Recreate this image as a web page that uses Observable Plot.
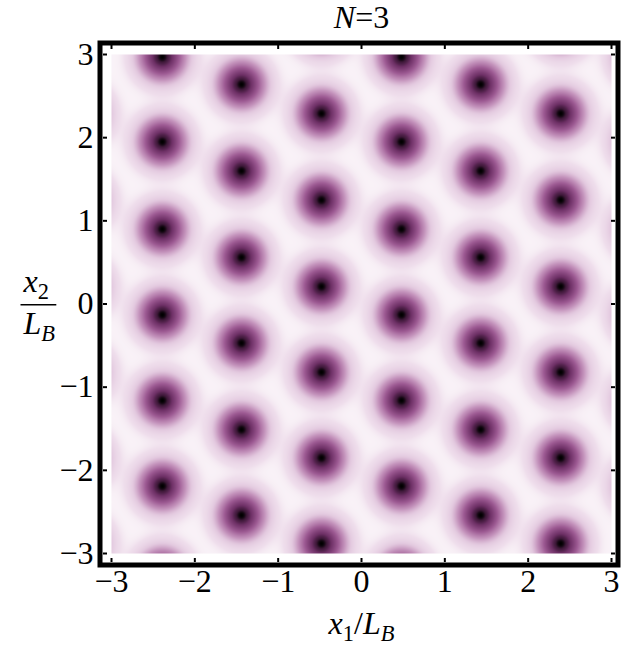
<!DOCTYPE html>
<html>
<head>
<meta charset="utf-8">
<script src="https://cdn.jsdelivr.net/npm/d3@7"></script>
<script src="https://cdn.jsdelivr.net/npm/@observablehq/plot@0.6"></script>
<style>
  html, body { margin: 0; padding: 0; background: #fff; }
  #chart svg { display: block; }
  #chart svg text { font-family: "Liberation Serif", "DejaVu Serif", serif; }
</style>
</head>
<body>
<div id="chart"></div>
<script>
// Vortex centres (x1/L_B, x2/L_B), including the
// partly visible / just-outside ones that shade the edges.
const vortexX = [
  -3.35, -3.35, -3.35, -3.35, -3.35, -3.35,
  -2.39, -2.39, -2.39, -2.39, -2.39, -2.39, -2.39,
  -1.44, -1.44, -1.44, -1.44, -1.44, -1.44, -1.44, -1.44,
  -0.48, -0.48, -0.48, -0.48, -0.48, -0.48, -0.48,
   0.48,  0.48,  0.48,  0.48,  0.48,  0.48,  0.48,
   1.43,  1.43,  1.43,  1.43,  1.43,  1.43,  1.43,  1.43,
   2.39,  2.39,  2.39,  2.39,  2.39,  2.39,  2.39,
   3.34,  3.34,  3.34,  3.34,  3.34,  3.34
];
const vortexY = [
   2.29,  1.25,  0.21, -0.82, -1.85, -2.88,
   2.97,  1.95,  0.90, -0.13, -1.16, -2.19, -3.23,
   3.67,  2.64,  1.60,  0.56, -0.47, -1.51, -2.54, -3.57,
   3.32,  2.29,  1.25,  0.21, -0.82, -1.85, -2.88,
   2.97,  1.95,  0.90, -0.13, -1.16, -2.19, -3.23,
   3.67,  2.64,  1.60,  0.56, -0.47, -1.51, -2.54, -3.57,
   3.32,  2.29,  1.25,  0.21, -0.82, -1.85, -2.88,
   2.97,  1.95,  0.90, -0.13, -1.16, -2.19
];
const xTicks = [-3, -2, -1, 0, 1, 2, 3];
const yTicks = [-3, -2, -1, 0, 1, 2, 3];
const titleText = "N=3";
const xLabel = "x1/LB";
const yLabelTop = "x2";
const yLabelBottom = "LB";
// colour ramp of the density (stop value -> colour)
const rampStops  = [0, 0.05, 0.18, 0.45, 0.68, 0.84, 0.95, 0.985, 1];
const rampColors = ["#000000", "#3d1838", "#6e3066", "#9d5a93", "#c493bc", "#e3c9df", "#efdeec", "#f8f0f6", "#faf4f9"];

const vortices = vortexX.map((x, i) => ({x, y: vortexY[i]}));
const S2 = 0.068;
function density(x, y) {
  let p = 1;
  for (const v of vortices) {
    const dx = x - v.x, dy = y - v.y;
    const r2 = dx * dx + dy * dy;
    if (r2 < 2.5) p *= 1 - Math.exp(-r2 / S2);
  }
  return p;
}
const ramp = d3.scaleLinear().domain(rampStops).range(rampColors).interpolate(d3.interpolateRgb).clamp(true);

const FONT = "Liberation Serif";
const FS = 32;
const frameH = 648 - 54 - 95, frameW = 625 - 111 - 14;
const fmt = d => (d < 0 ? "\u2212" : "") + Math.abs(d);

const svg = Plot.plot({
  width: 625,
  height: 648,
  marginLeft: 111,
  marginRight: 14,
  marginTop: 54,
  marginBottom: 95,
  style: {fontFamily: FONT, background: "white", color: "black"},
  x: {domain: [-3, 3]},
  y: {domain: [-3, 3]},
  color: {type: "linear", domain: [0, 1], interpolate: t => ramp(t)},
  marks: [
    Plot.raster({fill: density, x1: -3, x2: 3, y1: -3, y2: 3, pixelSize: 1}),
    Plot.frame({stroke: "black", strokeWidth: 5, insetLeft: -11.5, insetTop: -11.5, insetBottom: -11.5, insetRight: -6.5}),
    // inward frame ticks
    Plot.tickX(xTicks, {x: d => d, insetTop: frameH - 4, dy: 9, strokeWidth: 2}),
    Plot.tickX(xTicks, {x: d => d, insetBottom: frameH - 4, dy: -9, strokeWidth: 2}),
    Plot.tickY(yTicks, {y: d => d, insetRight: frameW - 4, dx: -8, strokeWidth: 2}),
    Plot.tickY(yTicks, {y: d => d, insetLeft: frameW - 4, dx: 4, strokeWidth: 2}),
    Plot.axisX(xTicks, {anchor: "bottom", tickSize: 0, tickPadding: 16, fontSize: FS, label: null, tickFormat: fmt}),
    Plot.axisY(yTicks, {anchor: "left", tickSize: 0, tickPadding: 18, fontSize: FS, label: null, tickFormat: fmt}),
    Plot.text([titleText], {frameAnchor: "top", dy: -37, fontSize: FS, lineAnchor: "middle"}),
    Plot.text([xLabel], {frameAnchor: "bottom", dy: 70, fontSize: FS, lineAnchor: "middle"}),
    Plot.text([yLabelTop], {frameAnchor: "left", dx: -88, dy: -22, fontSize: FS, lineAnchor: "middle"}),
    Plot.text([yLabelBottom], {frameAnchor: "left", dx: -88, dy: 20, fontSize: FS, lineAnchor: "middle"})
  ]
});
document.getElementById("chart").appendChild(svg);

// rich text (italics and subscripts)
const NS = "http://www.w3.org/2000/svg";
function rich(content, parts) {
  for (const t of svg.querySelectorAll("text")) {
    if (t.textContent === content) {
      while (t.firstChild) t.removeChild(t.firstChild);
      let shift = 0;
      for (const p of parts) {
        const s = document.createElementNS(NS, "tspan");
        s.textContent = p.t;
        if (p.i) s.setAttribute("font-style", "italic");
        const target = p.sub ? 7 : 0;
        if (p.sub) s.setAttribute("font-size", FS * 0.7);
        if (target !== shift) { s.setAttribute("dy", target - shift); shift = target; }
        t.appendChild(s);
      }
      return t;
    }
  }
}
rich(titleText, [{t: "N", i: true}, {t: "=3"}]);
rich(xLabel, [{t: "x", i: true}, {t: "1", sub: true}, {t: "/"}, {t: "L", i: true}, {t: "B", i: true, sub: true}]);
const tTop = rich(yLabelTop, [{t: "x", i: true}, {t: "2", sub: true}]);
const tBot = rich(yLabelBottom, [{t: "L", i: true}, {t: "B", i: true, sub: true}]);
// fraction bar between the two parts of the y label
if (tTop && tBot) {
  const sr = svg.getBoundingClientRect();
  const a = tTop.getBoundingClientRect(), b = tBot.getBoundingClientRect();
  const x0 = Math.min(a.left, b.left) - sr.left - 2, x1 = Math.max(a.right, b.right) - sr.left + 1;
  const ym = (a.bottom + b.top) / 2 - sr.top;
  const line = document.createElementNS(NS, "line");
  line.setAttribute("x1", x0); line.setAttribute("x2", x1);
  line.setAttribute("y1", ym); line.setAttribute("y2", ym);
  line.setAttribute("stroke", "black"); line.setAttribute("stroke-width", 1.5);
  svg.appendChild(line);
}
</script>
</body>
</html>
